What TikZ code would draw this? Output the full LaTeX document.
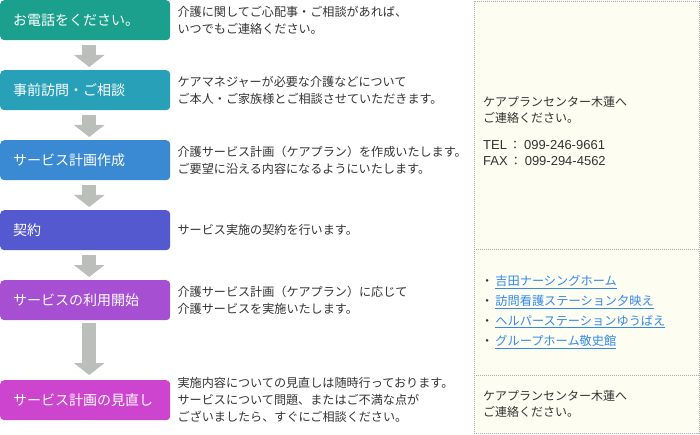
\documentclass[tikz,border=0pt]{standalone}
\usepackage{fontspec}
\setmainfont{Noto Sans CJK JP}
\newfontfamily\telfont{Liberation Sans}
\usetikzlibrary{arrows.meta,positioning}
\definecolor{callcol}{HTML}{1BA08E}
\definecolor{visitcol}{HTML}{27A0B8}
\definecolor{plancol}{HTML}{3A8AD3}
\definecolor{contractcol}{HTML}{5559CF}
\definecolor{startcol}{HTML}{A64FD3}
\definecolor{reviewcol}{HTML}{CD45CF}
\definecolor{arrowgray}{HTML}{BBBFBA}
\definecolor{notegray}{HTML}{333333}
\definecolor{panelbg}{HTML}{FDFDF1}
\definecolor{panelline}{HTML}{AAAAAA}
\definecolor{linkblue}{HTML}{3388EE}
\newcommand{\linkitem}[1]{・\hspace{2pt}{\color{linkblue}\underline{#1}}}
\newcommand{\telline}[2]{{\telfont\fontsize{13}{16.5}\selectfont #1}\hspace{2pt}：\hspace{3pt}{\telfont\fontsize{13}{16.5}\selectfont #2}}
\tikzset{
  stepbox/.style={anchor=north west,fill=#1,rounded corners=4pt,text=white,
    font=\fontsize{14}{16}\selectfont,text width=144pt,align=left,
    inner xsep=13pt,inner ysep=0pt,minimum height=40pt},
  note/.style={right=7pt of #1,inner sep=0pt,align=left,text=notegray,
    font=\fontsize{12.1}{17}\selectfont},
  info/.style={anchor=north west,inner sep=0pt,align=left,text=notegray,
    font=\fontsize{12}{16.5}\selectfont},
  flow/.style={draw=arrowgray,line width=14pt,-{Triangle[width=30pt,length=12pt]}},
  panel/.style={draw=panelline,line width=0.8pt,dash pattern=on 1pt off 1pt},
}
\begin{document}
\begin{tikzpicture}[x=1pt,y=-1pt]
\useasboundingbox (0,0) rectangle (700,435);

% right-hand panel
\fill[panelbg] (474,1) rectangle (699,433);
\draw[panel] (474,1) rectangle (699,433);
\draw[panel] (474,249) -- (699,249);
\draw[panel] (474,375) -- (699,375);

% steps
\node[stepbox=callcol] (call) at (0,0) {お電話をください。};
\node[stepbox=visitcol] (visit) at (0,70) {事前訪問・ご相談};
\node[stepbox=plancol] (plan) at (0,140) {サービス計画作成};
\node[stepbox=contractcol] (contract) at (0,210) {契約};
\node[stepbox=startcol] (start) at (0,280) {サービスの利用開始};
\node[stepbox=reviewcol] (review) at (0,380) {サービス計画の見直し};

\node[note=call] (callnote) {介護に関してご心配事・ご相談があれば、\\いつでもご連絡ください。};
\node[note=visit] (visitnote) {ケアマネジャーが必要な介護などについて\\ご本人・ご家族様とご相談させていただきます。};
\node[note=plan] (plannote) {介護サービス計画（ケアプラン）を作成いたします。\\ご要望に沿える内容になるようにいたします。};
\node[note=contract] (contractnote) {サービス実施の契約を行います。};
\node[note=start] (startnote) {介護サービス計画（ケアプラン）に応じて\\介護サービスを実施いたします。};
\node[note=review] (reviewnote) {実施内容についての見直しは随時行っております。\\サービスについて問題、またはご不満な点が\\ございましたら、すぐにご相談ください。};

% arrows
\draw[flow,shorten <=5pt,shorten >=3pt] ([xshift=4pt]call.south) -- ([xshift=4pt]visit.north);
\draw[flow,shorten <=5pt,shorten >=3pt] ([xshift=4pt]visit.south) -- ([xshift=4pt]plan.north);
\draw[flow,shorten <=5pt,shorten >=3pt] ([xshift=4pt]plan.south) -- ([xshift=4pt]contract.north);
\draw[flow,shorten <=5pt,shorten >=3pt] ([xshift=4pt]contract.south) -- ([xshift=4pt]start.north);
\draw[flow,shorten <=3pt,shorten >=5pt] ([xshift=4pt]start.south) -- ([xshift=4pt]review.north);

% panel texts
\node[info] (contact) at (483,96) {ケアプランセンター木蓮へ\\ご連絡ください。\\[10pt]\telline{TEL}{099-246-9661}\\\telline{FAX}{099-294-4562}};
\node[info,font=\fontsize{12.2}{20}\selectfont] (links) at (481,275) {\linkitem{吉田ナーシングホーム}\\\linkitem{訪問看護ステーション夕映え}\\\linkitem{ヘルパーステーションゆうばえ}\\\linkitem{グループホーム敬史館}};
\node[info] (recontact) at (483,390) {ケアプランセンター木蓮へ\\ご連絡ください。};
\end{tikzpicture}
\end{document}
